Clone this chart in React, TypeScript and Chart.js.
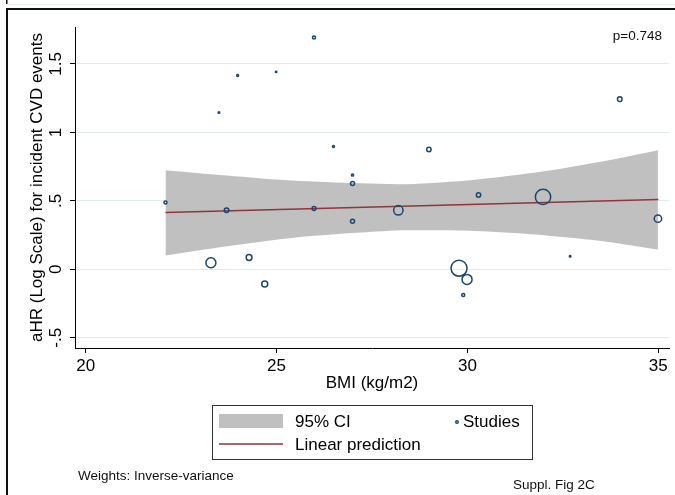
import React, { useEffect, useRef } from "react";
import { Chart, registerables } from "chart.js";

Chart.register(...registerables);

// ---- data ----
const bmi = [22.09, 23.69, 25.98, 23.49, 23.98, 24.99, 25.98, 26.49, 26.99, 26.99, 26.99, 28.19, 28.99, 30.29, 31.98, 33.99, 34.99, 23.28, 24.28, 24.69, 29.78, 29.99, 29.89, 32.69];
const logHR = [0.488, 0.431, 0.444, 1.145, 1.416, 1.442, 1.694, 0.897, 0.689, 0.626, 0.351, 0.431, 0.875, 0.543, 0.529, 1.243, 0.37, 0.048, 0.086, -0.107, 0.008, -0.074, -0.188, 0.095];
const studyWeights = [2.3, 5.3, 3.6, 0.64, 1.0, 0.5, 2.3, 1.0, 1.2, 4.0, 4.0, 22, 4.8, 4.8, 59, 5.3, 13.7, 25, 8.4, 9, 64, 25, 2.3, 0.64];

const fitX = [22.09, 35.0];
const fitY = [0.414, 0.509];

const ciX = [22.09, 23.7, 25.4, 27.2, 28.4, 30.2, 32.0, 33.7, 34.99];
const ciUpper = [0.724, 0.685, 0.648, 0.628, 0.622, 0.655, 0.716, 0.797, 0.87];
const ciLower = [0.1, 0.168, 0.229, 0.268, 0.285, 0.28, 0.249, 0.2, 0.144];

const xTicks = [20, 25, 30, 35];
const yTicks = [-0.5, 0, 0.5, 1, 1.5];
const yTickLabels = ["-.5", "0", ".5", "1", "1.5"];

const xTitle = "BMI (kg/m2)";
const yTitle = "aHR (Log Scale) for incident CVD events";
const pText = "p=0.748";
const noteLeft = "Weights: Inverse-variance";
const noteRight = "Suppl. Fig 2C";
const legendCI = "95% CI";
const legendStudies = "Studies";
const legendFit = "Linear prediction";

// ---- styles ----
const FONT = "'Liberation Sans', Arial, Helvetica, sans-serif";
const NAVY = "#1a476f";
const MAROON = "#90353b";
const BAND = "#c0c0c0";
const GRID = "#e3ebee";
const INK = "#000000";

const decorations = {
  id: "decorations",
  afterDraw(chart: any) {
    const ctx = chart.ctx as CanvasRenderingContext2D;
    ctx.save();
    // page frame
    ctx.fillStyle = "#111";
    ctx.fillRect(6, 0, 1.5, 4);
    ctx.fillStyle = "#e6eef0";
    ctx.fillRect(8, 4, 667, 1);
    ctx.fillStyle = "#111";
    ctx.fillRect(6, 8, 669, 2);
    ctx.fillRect(6, 8, 2, 487);

    // p value
    ctx.fillStyle = "#111";
    ctx.textBaseline = "middle";
    ctx.font = `13.5px ${FONT}`;
    ctx.textAlign = "right";
    ctx.fillText(pText, 662, 36);

    // notes
    ctx.textAlign = "left";
    ctx.fillText(noteLeft, 78, 476);
    ctx.fillText(noteRight, 513, 485);

    // legend box
    ctx.strokeStyle = "#333";
    ctx.lineWidth = 1;
    ctx.strokeRect(212.5, 405.5, 320, 54);
    ctx.fillStyle = BAND;
    ctx.fillRect(219, 414, 64, 14);
    ctx.strokeStyle = MAROON;
    ctx.lineWidth = 1.5;
    ctx.beginPath();
    ctx.moveTo(219, 444);
    ctx.lineTo(283, 444);
    ctx.stroke();
    ctx.strokeStyle = NAVY;
    ctx.lineWidth = 1.4;
    ctx.beginPath();
    ctx.arc(457, 422, 1.3, 0, Math.PI * 2);
    ctx.stroke();

    ctx.fillStyle = INK;
    ctx.font = `17px ${FONT}`;
    ctx.textAlign = "left";
    ctx.fillText(legendCI, 295, 422);
    ctx.fillText(legendStudies, 463, 422);
    ctx.fillText(legendFit, 295, 445);
    ctx.restore();
  },
};

export default function App() {
  const ref = useRef<HTMLCanvasElement | null>(null);

  useEffect(() => {
    if (!ref.current) return;
    const chart = new Chart(ref.current, {
      type: "scatter",
      data: {
        datasets: [
          {
            type: "scatter",
            label: "Studies",
            data: bmi.map((x, i) => ({ x, y: logHR[i] })),
            pointRadius: studyWeights.map((w) => Math.sqrt(w)),
            pointBorderWidth: 1.5,
            pointBorderColor: NAVY,
            pointBackgroundColor: "rgba(0,0,0,0)",
            pointHoverRadius: 0,
            showLine: false,
            order: 0,
          } as any,
          {
            type: "line",
            label: "Linear prediction",
            data: fitX.map((x, i) => ({ x, y: fitY[i] })),
            borderColor: MAROON,
            borderWidth: 1.5,
            pointRadius: 0,
            fill: false,
            order: 1,
          } as any,
          {
            type: "line",
            label: "CI upper",
            data: ciX.map((x, i) => ({ x, y: ciUpper[i] })),
            borderColor: "rgba(0,0,0,0)",
            borderWidth: 0,
            backgroundColor: BAND,
            pointRadius: 0,
            fill: "+1",
            tension: 0.3,
            order: 2,
          } as any,
          {
            type: "line",
            label: "CI lower",
            data: ciX.map((x, i) => ({ x, y: ciLower[i] })),
            borderColor: "rgba(0,0,0,0)",
            borderWidth: 0,
            pointRadius: 0,
            fill: false,
            tension: 0.3,
            order: 3,
          } as any,
        ],
      },
      options: {
        animation: false,
        responsive: false,
        devicePixelRatio: 1,
        events: [],
        layout: { padding: { left: 23, top: 27, right: 6, bottom: 97 }, autoPadding: false },
        plugins: {
          legend: { display: false },
          tooltip: { enabled: false },
          title: { display: false },
        },
        scales: {
          x: {
            type: "linear",
            min: 19.72,
            max: 35.28,
            afterBuildTicks: (axis: any) => {
              axis.ticks = xTicks.map((v) => ({ value: v }));
            },
            afterFit: (axis: any) => {
              axis.height = 50;
            },
            ticks: {
              autoSkip: false,
              maxRotation: 0,
              minRotation: 0,
              padding: 3,
              color: INK,
              font: { family: FONT, size: 17 },
            },
            grid: {
              drawOnChartArea: false,
              drawTicks: true,
              tickLength: 5,
              tickColor: INK,
              tickWidth: 1,
            },
            border: { display: true, color: INK, width: 1 },
            title: {
              display: true,
              text: xTitle,
              color: INK,
              font: { family: FONT, size: 17 },
              padding: { top: 4, bottom: 4 },
            },
          },
          y: {
            type: "linear",
            min: -0.575,
            max: 1.77,
            afterBuildTicks: (axis: any) => {
              axis.ticks = yTicks.map((v) => ({ value: v }));
            },
            afterFit: (axis: any) => {
              axis.width = 52;
            },
            ticks: {
              autoSkip: false,
              minRotation: 90,
              maxRotation: 90,
              crossAlign: "center",
              padding: 2,
              color: INK,
              font: { family: FONT, size: 17 },
              callback: (value: any) => {
                const idx = yTicks.indexOf(Number(value));
                return idx >= 0 ? yTickLabels[idx] : "";
              },
            },
            grid: {
              color: GRID,
              lineWidth: 1,
              drawTicks: true,
              tickLength: 5,
              tickColor: INK,
              tickWidth: 1,
            },
            border: { display: true, color: INK, width: 1 },
            title: {
              display: true,
              text: yTitle,
              color: INK,
              font: { family: FONT, size: 17 },
              padding: { top: 4, bottom: 4 },
            },
          },
        },
      } as any,
      plugins: [decorations],
    });
    return () => chart.destroy();
  }, []);

  return (
    <div style={{ position: "absolute", left: 0, top: 0, width: 675, height: 495, background: "#fff" }}>
      <canvas ref={ref} width={675} height={495} style={{ display: "block" }} />
    </div>
  );
}
